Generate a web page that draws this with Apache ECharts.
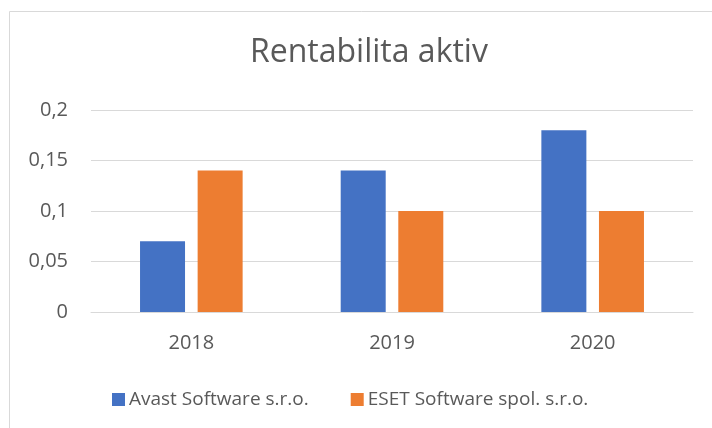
<!DOCTYPE html>
<html>
<head>
<meta charset="utf-8">
<script src="https://cdn.jsdelivr.net/npm/echarts@6/dist/echarts.min.js"></script>
<style>
  html, body { margin: 0; padding: 0; background: #fff; }
  #chart { width: 712px; height: 428px; }
</style>
</head>
<body>
<div id="chart"></div>
<script>
var years = ['2018', '2019', '2020'];
var avast = [0.07, 0.14, 0.18];
var eset = [0.14, 0.10, 0.10];
var seriesNames = ['Avast Software s.r.o.', 'ESET Software spol. s.r.o.'];

var myChart = echarts.init(document.getElementById('chart'));
var textColor = '#595959';
var fontName = '"Open Sans", "Noto Sans", sans-serif';

var option = {
    animation: false,
    textStyle: { fontFamily: fontName },
    graphic: [{
        type: 'rect',
        shape: { x: 9.5, y: 11.5, width: 720, height: 440 },
        style: { fill: 'none', stroke: '#d9d9d9', lineWidth: 1 }
    }],
    title: {
        text: 'Rentabilita aktiv',
        left: 245,
        top: 32,
        textStyle: { color: textColor, fontSize: 32, fontWeight: 'normal', fontFamily: fontName }
    },
    legend: {
        data: seriesNames,
        left: 107,
        top: 385,
        itemWidth: 13,
        itemHeight: 13,
        itemGap: 42,
        icon: 'rect',
        textStyle: { color: textColor, fontSize: 19, fontFamily: fontName, padding: [0, 0, 0, -1] }
    },
    grid: { left: 91, right: 19, top: 110, bottom: 116 },
    xAxis: {
        type: 'category',
        data: years,
        axisTick: { show: false },
        axisLine: { lineStyle: { color: '#d9d9d9', width: 1 } },
        axisLabel: { color: textColor, fontSize: 20, margin: 21, fontFamily: fontName }
    },
    yAxis: {
        type: 'value',
        min: 0,
        max: 0.2,
        interval: 0.05,
        axisLine: { show: false },
        axisTick: { show: false },
        splitLine: { lineStyle: { color: '#d9d9d9', width: 1 } },
        axisLabel: {
            color: textColor, fontSize: 20, margin: 23, fontFamily: fontName,
            formatter: function (v) { return String(+v.toFixed(2)).replace('.', ','); }
        }
    },
    series: [
        { name: seriesNames[0], type: 'bar', data: avast, barWidth: 45, barGap: '28%', itemStyle: { color: '#4472c4' } },
        { name: seriesNames[1], type: 'bar', data: eset, barWidth: 45, itemStyle: { color: '#ed7d31' } }
    ]
};

myChart.setOption(option);
</script>
</body>
</html>
